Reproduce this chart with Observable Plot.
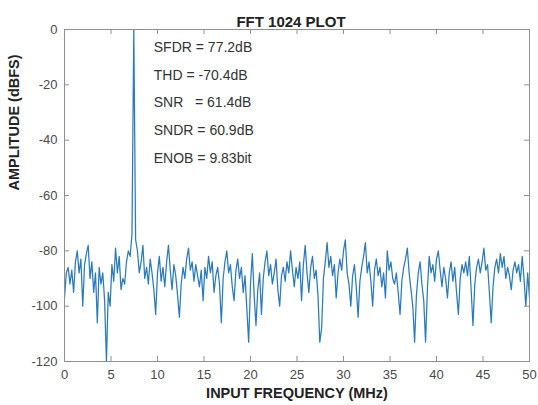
<!DOCTYPE html>
<html>
<head>
<meta charset="utf-8">
<script src="https://cdn.jsdelivr.net/npm/d3@7"></script>
<script src="https://cdn.jsdelivr.net/npm/@observablehq/plot@0.6"></script>
<style>
  html, body { margin: 0; padding: 0; background: #fff; }
</style>
</head>
<body>
<div id="chart"></div>
<script>
// FFT bin amplitudes (dBFS), 256 bins evenly spaced over 0–50 MHz
const amplitude = [
  -97,-88,-86,-92,-87,-95,-84,-80,-88,-83,
  -100,-85,-81,-78,-90,-84,-95,-88,-106,-86,
  -92,-88,-98,-120,-95,-100,-85,-91,-79,-88,
  -82,-94,-90,-92,-84,-80,-82,-74,0,-76,
  -80,-88,-84,-78,-90,-86,-92,-83,-88,-94,
  -103,-88,-82,-91,-86,-93,-84,-78,-87,-94,
  -85,-89,-96,-104,-92,-86,-90,-83,-79,-87,
  -84,-91,-85,-89,-93,-87,-98,-86,-90,-82,
  -88,-84,-95,-89,-86,-92,-106,-90,-84,-80,
  -88,-85,-93,-98,-87,-83,-90,-86,-95,-89,
  -101,-113,-92,-81,-96,-107,-94,-88,-103,-90,
  -84,-80,-89,-85,-92,-88,-83,-94,-100,-89,
  -86,-91,-84,-88,-80,-87,-93,-86,-90,-84,
  -98,-85,-78,-88,-95,-86,-82,-90,-87,-96,
  -113,-108,-90,-84,-77,-86,-82,-89,-85,-97,
  -88,-83,-87,-80,-76,-88,-92,-100,-89,-85,
  -93,-104,-91,-86,-82,-77,-88,-84,-91,-100,
  -87,-83,-89,-86,-93,-88,-97,-80,-87,-84,
  -90,-92,-88,-95,-103,-91,-86,-83,-79,-88,
  -94,-100,-113,-96,-88,-84,-92,-98,-113,-94,
  -82,-88,-85,-91,-83,-80,-87,-93,-86,-90,
  -97,-88,-84,-91,-86,-95,-103,-90,-85,-88,
  -84,-89,-82,-94,-107,-92,-86,-83,-88,-84,
  -79,-87,-85,-95,-106,-93,-86,-83,-88,-81,
  -86,-82,-90,-86,-89,-94,-87,-84,-88,-85,
  -91,-82,-90,-100,-88,-97
];
const freqMax = 50;
const xTicks = [0, 5, 10, 15, 20, 25, 30, 35, 40, 45, 50];
const yTicks = [0, -20, -40, -60, -80, -100, -120];
const annotations = [
  "SFDR = 77.2dB",
  "THD = -70.4dB",
  "SNR\u00a0\u00a0 = 61.4dB",
  "SNDR = 60.9dB",
  "ENOB = 9.83bit"
];
const titleText = "FFT 1024 PLOT";
const xLabel = "INPUT FREQUENCY (MHz)";
const yLabel = "AMPLITUDE (dBFS)";

const step = freqMax / (amplitude.length - 1);
const data = amplitude.map((a, i) => ({f: i * step, a}));

const W = 538, H = 405, mL = 64, mR = 9, mT = 29, mB = 44;
const frameW = W - mL - mR, frameH = H - mT - mB;
const gray = "#8f8f8f";
const tickLen = 5;

const chart = Plot.plot({
  width: W, height: H,
  marginLeft: mL, marginRight: mR, marginTop: mT, marginBottom: mB,
  style: {fontFamily: "'Liberation Sans', Arial, sans-serif", background: "#fff"},
  x: {domain: [0, freqMax]},
  y: {domain: [-120, 0]},
  marks: [
    Plot.line(data, {x: "f", y: "a", stroke: "#2a7bbd", strokeWidth: 1.25, clip: true}),
    Plot.frame({stroke: gray}),
    Plot.tickX(xTicks, {x: d => d, stroke: gray, insetTop: frameH - tickLen}),
    Plot.tickX(xTicks, {x: d => d, stroke: gray, insetBottom: frameH - tickLen}),
    Plot.tickY(yTicks, {y: d => d, stroke: gray, insetRight: frameW - tickLen}),
    Plot.tickY(yTicks, {y: d => d, stroke: gray, insetLeft: frameW - tickLen}),
    Plot.axisX({ticks: xTicks, tickSize: 0, tickPadding: 8, fontSize: 13, color: "#4a4a4a", label: null, tickFormat: d => String(d)}),
    Plot.axisY({ticks: yTicks, tickSize: 0, tickPadding: 7, fontSize: 13, color: "#4a4a4a", label: null, tickFormat: d => String(d)}),
    Plot.text(annotations, {
      x: 9.6,
      y: (d, i) => -6.5 - i * 10,
      text: d => d,
      textAnchor: "start",
      fontSize: 14,
      fill: "#333"
    }),
    Plot.text([titleText], {frameAnchor: "top", dy: -13, dx: -6, fontSize: 15, fontWeight: "bold", fill: "#222"}),
    Plot.text([xLabel], {frameAnchor: "bottom", dy: 36, fontSize: 14.5, fontWeight: "bold", fill: "#222"}),
    Plot.text([yLabel], {frameAnchor: "left", dx: -50, dy: -5, rotate: -90, fontSize: 14.5, fontWeight: "bold", fill: "#222"})
  ]
});
document.getElementById("chart").appendChild(chart);
</script>
</body>
</html>
